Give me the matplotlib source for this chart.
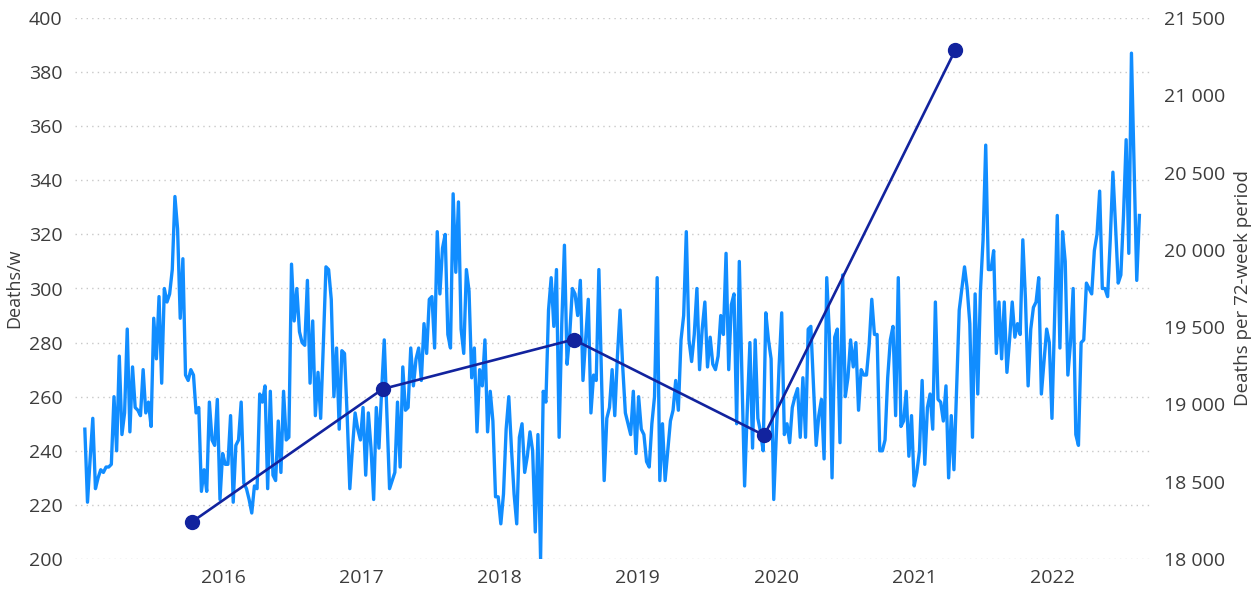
import numpy as np
import pandas as pd
import matplotlib
matplotlib.use("Agg")
import matplotlib.pyplot as plt
import matplotlib.ticker as mticker

plt.rcParams['font.family'] = ['Open Sans', 'DejaVu Sans']

# weekly deaths (Jan 2015 -> Aug 2022)
deaths_w = [
    248, 221, 237, 252, 226, 230, 233, 232, 234, 234,
    235, 260, 240, 275, 246, 254, 285, 247, 271, 256,
    255, 253, 270, 254, 258, 249, 289, 274, 297, 265,
    300, 295, 298, 307, 334, 322, 289, 311, 268, 266,
    270, 268, 254, 256, 225, 233, 225, 258, 244, 242,
    259, 222, 239, 235, 235, 253, 221, 242, 244, 258,
    228, 226, 222, 217, 227, 226, 261, 258, 264, 226,
    262, 231, 229, 251, 232, 262, 244, 245, 309, 288,
    300, 284, 280, 279, 303, 265, 288, 253, 269, 252,
    279, 308, 307, 296, 260, 278, 248,
    277, 276, 253, 226, 241, 254, 248, 244, 256, 231,
    254, 241, 222, 256, 241, 262, 281, 254, 226, 229,
    232, 258, 234, 271, 255, 256, 278, 264, 274, 278,
    266, 287, 276, 296, 297, 278, 321, 298, 315, 320,
    283, 278, 335, 306, 332, 285, 276, 307, 299, 267,
    278, 247,
    270, 264, 281, 247, 262, 251, 223, 223, 213, 224,
    248, 260, 241, 224, 213, 245, 250, 232, 238, 247,
    240, 210, 246, 200, 262, 258, 292, 304, 286, 307,
    245, 287, 316, 272, 283, 300, 298, 290, 303, 266,
    281, 296, 254, 268, 266, 307, 267, 229, 252, 256,
    270, 253,
    275, 292, 271, 254, 250, 246, 262, 239, 260, 248,
    246, 236, 234, 250, 260, 304, 229, 250, 229, 240,
    251, 255, 266, 255, 281, 290, 321, 281, 273, 283,
    300, 270, 285, 295, 271, 282, 272, 270, 275, 290,
    283, 313, 270, 294, 298, 250, 310, 267, 227, 255,
    280, 241, 281,
    252, 247, 240, 291, 281, 274, 222, 246, 271, 291,
    246, 250, 243, 256, 260, 263, 245, 267, 245, 285,
    286, 264, 242, 253, 259, 237, 304, 283, 230, 282,
    285, 243, 305, 260, 267, 281, 271, 280, 255, 270,
    268, 268, 279, 296, 283, 283, 240, 240, 244, 267,
    281, 286,
    253, 304, 249, 251, 262, 238, 253, 227, 232, 240,
    266, 235, 256, 261, 248, 295, 259, 258, 251, 264,
    230, 253, 233, 262, 292, 300, 308, 300, 287, 245,
    298, 261, 299, 318, 353, 307, 307, 314, 276, 295,
    274, 295, 269,
    281, 295, 282, 287, 283, 318, 296, 264, 285, 293,
    295, 304, 261, 273, 285, 280, 252, 290, 327, 278,
    321, 310, 268, 280, 300, 246, 242, 280, 281, 302,
    300, 298, 314, 320, 336, 300, 300, 297, 318, 343,
    323, 302, 305, 327, 355, 313, 387, 345, 303, 327,
]
week_dates = pd.date_range("2015-01-01", periods=len(deaths_w), freq="7D")

# deaths per 72-week period
period_dates = pd.to_datetime(["2015-10-11", "2017-02-26", "2018-07-15",
                               "2019-12-01", "2021-04-18"])
period_deaths = [18240, 19100, 19420, 18800, 21290]

years = [2016, 2017, 2018, 2019, 2020, 2021, 2022]

txt = "#3c3c3c"

fig = plt.figure(figsize=(12.6, 5.96), dpi=100)
ax = fig.add_axes([75 / 1260, 1 - 559 / 596, 1075 / 1260, 541 / 596])
ax2 = ax.twinx()

ax.plot(week_dates, deaths_w, color="#118DFF", lw=2.4, solid_joinstyle="round", zorder=2)
ax2.plot(period_dates, period_deaths, color="#12239E", lw=1.9, marker="o", ms=10, zorder=3)

ax.set_ylim(200, 400)
ax.set_yticks(np.arange(200, 401, 20))
ax2.set_ylim(18000, 21500)
ax2.set_yticks(np.arange(18000, 21501, 500))
ax2.yaxis.set_major_formatter(mticker.FuncFormatter(lambda v, p: f"{int(v):,}".replace(",", " ")))

ax.set_xlim(pd.Timestamp("2014-12-06"), pd.Timestamp("2022-09-15"))
ax.set_xticks([pd.Timestamp(f"{y}-01-01") for y in years])
ax.set_xticklabels([str(y) for y in years])

ax.grid(axis="y", linestyle=(0, (1, 3)), color="#c8c8c8", lw=1)
ax.set_axisbelow(True)
for a in (ax, ax2):
    for s in a.spines.values():
        s.set_visible(False)
    a.tick_params(length=0, labelsize=14, labelcolor=txt)
ax.tick_params(axis="y", pad=9)
ax.tick_params(axis="x", pad=7)
ax2.tick_params(axis="y", pad=10)

ax.set_ylabel("Deaths/w", fontsize=13, color=txt, labelpad=4)
ax2.set_ylabel("Deaths per 72-week period", fontsize=13.5, color=txt, labelpad=6)

fig.savefig("out.png", dpi=100)
